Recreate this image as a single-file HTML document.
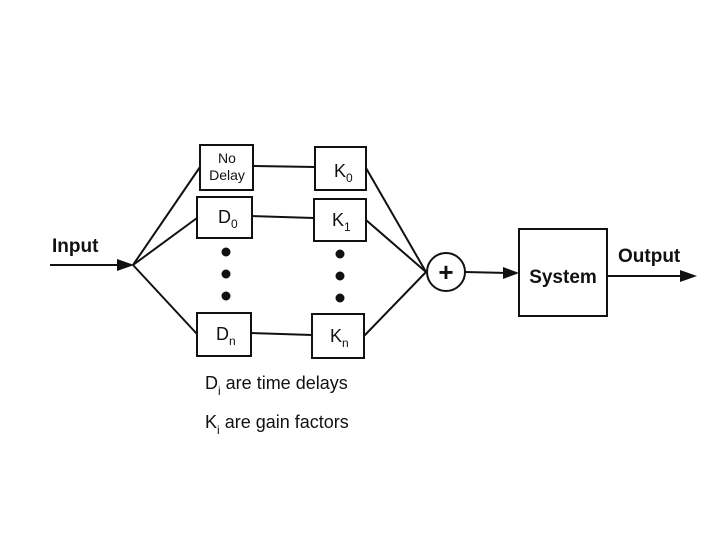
<!DOCTYPE html>
<html><head><style>
body{margin:0;background:#fff;}
svg{display:block;}
text{font-family:"Liberation Sans",Arial,sans-serif;fill:#111;}
</style></head><body>
<svg width="720" height="540" viewBox="0 0 720 540">
<g stroke="#111" stroke-width="2" fill="none">
<line x1="50" y1="265" x2="122" y2="265"/>
<line x1="133" y1="265" x2="200" y2="167"/>
<line x1="133" y1="265" x2="197" y2="218"/>
<line x1="133" y1="265" x2="197" y2="334"/>
<rect x="200" y="145" width="53" height="45"/>
<rect x="197" y="197" width="55" height="41"/>
<rect x="197" y="313" width="54" height="43"/>
<rect x="315" y="147" width="51" height="43"/>
<rect x="314" y="199" width="52" height="42"/>
<rect x="312" y="314" width="52" height="44"/>
<line x1="253" y1="166" x2="315" y2="167"/>
<line x1="252" y1="216" x2="314" y2="218"/>
<line x1="251" y1="333" x2="312" y2="335"/>
<line x1="366" y1="168" x2="426" y2="272"/>
<line x1="366" y1="220" x2="426" y2="272"/>
<line x1="364" y1="336" x2="426" y2="272"/>
<circle cx="446" cy="272" r="19"/>
<line x1="465" y1="272" x2="508" y2="273"/>
<rect x="519" y="229" width="88" height="87"/>
<line x1="607" y1="276" x2="683" y2="276"/>
</g>
<g fill="#111">
<polygon points="117,259 134,265 117,271"/>
<polygon points="503,267 519,273 503,279"/>
<polygon points="680,270 697,276 680,282"/>
<circle cx="226" cy="252" r="4.5"/><circle cx="226" cy="274" r="4.5"/><circle cx="226" cy="296" r="4.5"/>
<circle cx="340" cy="254" r="4.5"/><circle cx="340" cy="276" r="4.5"/><circle cx="340" cy="298" r="4.5"/>
</g>
<text x="446" y="281" font-size="26" font-weight="bold" text-anchor="middle">+</text>
<text x="52" y="252" font-size="19" font-weight="bold">Input</text>
<text x="618" y="262" font-size="19" font-weight="bold">Output</text>
<text x="563" y="283" font-size="19" font-weight="bold" text-anchor="middle">System</text>
<text x="227" y="163" font-size="14" text-anchor="middle">No</text>
<text x="227" y="180" font-size="14" text-anchor="middle">Delay</text>
<text x="218" y="223" font-size="18">D<tspan font-size="12" dy="5">0</tspan></text>
<text x="216" y="340" font-size="18">D<tspan font-size="12" dy="5">n</tspan></text>
<text x="334" y="177" font-size="18">K<tspan font-size="12" dy="5">0</tspan></text>
<text x="332" y="226" font-size="18">K<tspan font-size="12" dy="5">1</tspan></text>
<text x="330" y="342" font-size="18">K<tspan font-size="12" dy="5">n</tspan></text>
<text x="205" y="389" font-size="18">D<tspan font-size="12" dy="6">i</tspan><tspan dy="-6"> are time delays</tspan></text>
<text x="205" y="428" font-size="18">K<tspan font-size="12" dy="6">i</tspan><tspan dy="-6"> are gain factors</tspan></text>
</svg>
</body></html>
